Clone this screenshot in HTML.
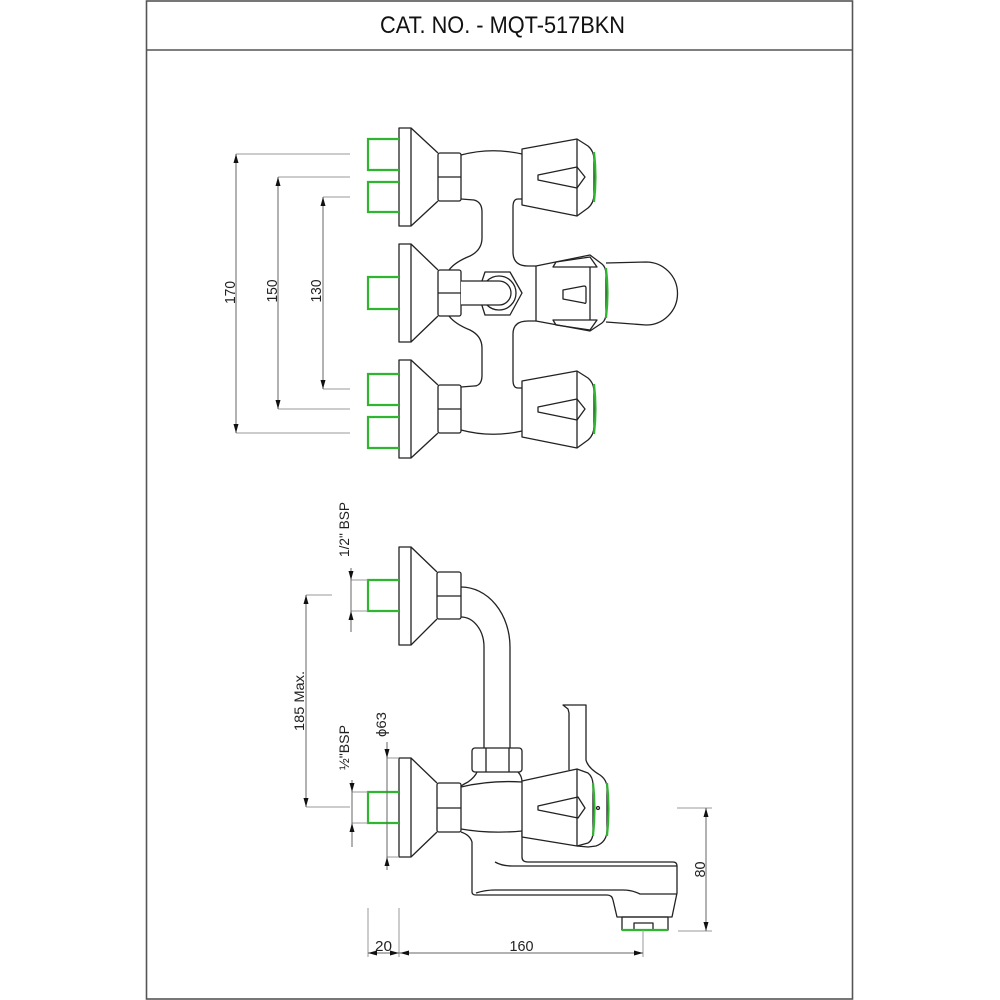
<!DOCTYPE html>
<html><head><meta charset="utf-8"><style>html,body{margin:0;padding:0;background:#fff}svg{display:block}</style></head>
<body>
<svg width="1000" height="1000" viewBox="0 0 1000 1000" xmlns="http://www.w3.org/2000/svg">
<rect width="1000" height="1000" fill="#fff"/>
<!-- frame -->
<g fill="none" stroke="#555" stroke-width="1.6">
<rect x="146.5" y="1" width="706" height="998"/>
<line x1="146.5" y1="50" x2="852.5" y2="50"/>
</g>
<text x="380" y="33" font-family="Liberation Sans, sans-serif" font-size="24" textLength="245" lengthAdjust="spacingAndGlyphs" fill="#111">CAT. NO. - MQT-517BKN</text>

<!-- ===== TOP VIEW ===== -->
<g fill="none" stroke="#222" stroke-width="1.3" stroke-linejoin="round">
<!-- valve 1 -->
<rect x="399" y="128" width="12" height="98"/>
<path d="M411,128 L438,153 M411,226 L438,201"/>
<rect x="438" y="153" width="23" height="48" rx="2"/>
<line x1="438" y1="177" x2="461" y2="177"/>
<!-- valve 2 -->
<rect x="399" y="244" width="12" height="98"/>
<path d="M411,244 L438,270 M411,342 L438,316"/>
<rect x="438" y="270" width="23" height="46" rx="2"/>
<line x1="438" y1="293" x2="461" y2="293"/>
<!-- valve 3 -->
<rect x="399" y="360" width="12" height="98"/>
<path d="M411,360 L438,385 M411,458 L438,433"/>
<rect x="438" y="385" width="23" height="48" rx="2"/>
<line x1="438" y1="409" x2="461" y2="409"/>

<!-- body outline -->
<path d="M461,155 Q491,147 522,154"/>
<path d="M461,430 Q491,438 522,431"/>
<path d="M461,199 L474,200 Q482,202 482,212 L482,238 Q482,250 470,256 Q455,262 449,270"/>
<path d="M449,316 Q455,324 470,330 Q482,336 482,348 L482,375 Q482,386 474,386 L461,387"/>
<path d="M522,199 L518,199 Q513,199 513,207 L513,252 Q513,266 528,266 L536,266"/>
<path d="M536,321 L528,321 Q513,321 513,334 L513,380 Q513,388 518,388 L522,388"/>

<!-- handle 1 -->
<path d="M522,149 L577,139 L588,146 Q594,151 594,160 L594,194 Q594,203 588,208 L577,216 L522,205 Z" fill="#fff"/>
<line x1="577" y1="139" x2="577" y2="216"/>
<path d="M538,175 L577,167 L585,177 L577,188 L538,180 Z"/>
<!-- handle 3 -->
<path d="M522,381 L577,371 L588,378 Q594,383 594,392 L594,426 Q594,435 588,440 L577,448 L522,437 Z" fill="#fff"/>
<line x1="577" y1="371" x2="577" y2="448"/>
<path d="M538,407 L577,399 L585,409 L577,420 L538,412 Z"/>

<!-- middle handle -->
<path d="M606,263 L646,262 A31.5,31.5 0 0 1 646,325 L606,322"/>
<path d="M536,266 L590,255 L602,264 Q606,267 606,275 L606,313 Q606,320 602,323 L590,331 L536,321 Z" fill="#fff"/>
<line x1="590" y1="267" x2="590" y2="320"/>
<path d="M553,267 L556,262 L590,257 L597,267 Z"/>
<path d="M553,320 L556,325 L590,330 L597,320 Z"/>
<path d="M563,290 L584,286 Q586,286 586,288 L586,302 Q586,304 584,303 L563,299 Z"/>

<!-- elbow -->
<polygon points="485,272 510,272 522,293 510,315 485,315 478,293" fill="#fff"/>
<circle cx="499" cy="293" r="17"/>
<path d="M461,281 L499,281 A12,12 0 0 1 499,305 L461,305" fill="#fff"/>
</g>

<!-- green parts top view -->
<g fill="none" stroke="#2fb52f" stroke-width="2.2">
<path d="M399,139 H368 V170 H399 M399,182 H368 V212 H399"/>
<path d="M399,277 H368 V309 H399"/>
<path d="M399,374 H368 V405 H399 M399,417 H368 V448 H399"/>
<path d="M594,152 Q597,177 594,202"/>
<path d="M594,384 Q597,409 594,434"/>
<path d="M606,268 Q609,293 606,318"/>
</g>

<!-- ===== SIDE VIEW ===== -->
<g fill="none" stroke="#222" stroke-width="1.3" stroke-linejoin="round">
<!-- upper valve -->
<rect x="399" y="547" width="12" height="98"/>
<path d="M411,547 L437,572 M411,645 L437,619"/>
<rect x="437" y="572" width="24" height="47" rx="2"/>
<line x1="437" y1="596" x2="461" y2="596"/>
<!-- pipe -->
<path d="M461,587 A49,60 0 0 1 510,647 L510,748"/>
<path d="M461,617 A23,30 0 0 1 484,647 L484,748"/>
<!-- upper nut on pipe -->
<rect x="472" y="748" width="50" height="24" rx="3"/>
<path d="M486,748 V772 M509,748 V772"/>
<!-- lower valve -->
<rect x="399" y="758" width="12" height="99"/>
<path d="M411,758 L437,783 M411,857 L437,832"/>
<rect x="437" y="783" width="24" height="49" rx="2"/>
<line x1="437" y1="808" x2="461" y2="808"/>
<!-- body -->
<path d="M477,772 Q475,777 468,782 Q464,784 461,786"/>
<path d="M518,772 Q522,776 522,782"/>
<path d="M461,787 Q490,780 522,782"/>
<path d="M461,829 Q490,834 522,831"/>
<path d="M461,832 Q470,835 472,842 L472,892 Q472,895 476,895 L607,895 Q612,895 613,900 L617,917 L672,917 L677,893 L677,866 Q677,862 673,862 L528,862 Q522,862 522,857 L522,831"/>
<path d="M476,893 Q485,890 495,890 L623,890 Q632,890 640,894 L677,894"/>
<path d="M495,862 Q502,866 512,866 L677,866"/>
<!-- aerator -->
<rect x="622" y="917" width="46" height="13"/>
<rect x="634" y="923" width="19" height="7"/>
<!-- lever -->
<path d="M569,770 L569,713 L568,709 L563,705 L586,705 L586,760 Q588,768 600,775 Q607,780 607,788 L607,830 Q607,842 596,846 L588,847 L577,846"/>
<!-- handle -->
<path d="M577,769 L588,773 Q593,777 593,785 L593,832 Q593,840 588,843 L577,846" fill="#fff"/>
<path d="M522,781 L577,769 L577,846 L522,837 Z" fill="#fff"/>
<path d="M538,806 L578,797 L585,808 L578,818 L538,810 Z"/>
<circle cx="598" cy="808" r="1.5"/>
</g>

<!-- green side view -->
<g fill="none" stroke="#2fb52f" stroke-width="2.2">
<path d="M399,580 H368 V611 H399"/>
<path d="M399,792 H368 V823 H399"/>
<path d="M593,783 Q596,808 593,836"/>
<path d="M607,783 Q610,808 607,836"/>
<line x1="622" y1="930" x2="668" y2="930"/>
</g>

<!-- ===== DIMENSIONS ===== -->
<g fill="none" stroke="#999" stroke-width="1">
<path d="M236,154 H350 M236,433 H350"/>
<path d="M278,177 H350 M278,409 H350"/>
<path d="M323,197 H350 M323,389 H350"/>
<path d="M351,580 H368 M351,611 H368"/>
<path d="M306,595 H332 M306,807 H350"/>
<path d="M352,792 H368 M352,823 H368"/>
<path d="M387,758 H399 M387,857 H399"/>
<path d="M677,808 H712 M678,931 H712"/>
<path d="M643,930 V957 M368,908 V957 M399,908 V957"/>
</g>
<g fill="none" stroke="#666" stroke-width="1">
<line x1="236" y1="154" x2="236" y2="433"/>
<line x1="278" y1="177" x2="278" y2="409"/>
<line x1="323" y1="197" x2="323" y2="389"/>
<line x1="351" y1="568" x2="351" y2="632"/>
<line x1="306" y1="595" x2="306" y2="807"/>
<line x1="352" y1="780" x2="352" y2="847"/>
<line x1="387" y1="742" x2="387" y2="870"/>
<line x1="706" y1="808" x2="706" y2="931"/>
<line x1="368" y1="953" x2="643" y2="953"/>
</g>
<g fill="#111" stroke="none">
<polygon points="236,154 233.5,163 238.5,163"/>
<polygon points="236,433 233.5,424 238.5,424"/>
<polygon points="278,177 275.5,186 280.5,186"/>
<polygon points="278,409 275.5,400 280.5,400"/>
<polygon points="323,197 320.5,206 325.5,206"/>
<polygon points="323,389 320.5,380 325.5,380"/>
<polygon points="351,580 348.5,571 353.5,571"/>
<polygon points="351,611 348.5,620 353.5,620"/>
<polygon points="306,595 303.5,604 308.5,604"/>
<polygon points="306,807 303.5,798 308.5,798"/>
<polygon points="352,792 349.5,783 354.5,783"/>
<polygon points="352,823 349.5,832 354.5,832"/>
<polygon points="387,758 384.5,749 389.5,749"/>
<polygon points="387,857 384.5,866 389.5,866"/>
<polygon points="706,808 703.5,817 708.5,817"/>
<polygon points="706,931 703.5,922 708.5,922"/>
<polygon points="368,953 377,950.5 377,955.5"/>
<polygon points="399,953 390,950.5 390,955.5"/>
<polygon points="400,953 409,950.5 409,955.5"/>
<polygon points="643,953 634,950.5 634,955.5"/>
</g>

<g font-family="Liberation Sans, sans-serif" font-size="15" fill="#222" text-anchor="middle">
<text transform="translate(235,292.5) rotate(-90)" textLength="23" lengthAdjust="spacingAndGlyphs">170</text>
<text transform="translate(277,291) rotate(-90)" textLength="23" lengthAdjust="spacingAndGlyphs">150</text>
<text transform="translate(321,291) rotate(-90)" textLength="23" lengthAdjust="spacingAndGlyphs">130</text>
<text transform="translate(349,529.5) rotate(-90)" font-size="14" textLength="55" lengthAdjust="spacingAndGlyphs">1/2" BSP</text>
<text transform="translate(304,701) rotate(-90)" font-size="14" textLength="60" lengthAdjust="spacingAndGlyphs">185 Max.</text>
<text transform="translate(349,747.5) rotate(-90)" font-size="14" textLength="45" lengthAdjust="spacingAndGlyphs">½"BSP</text>
<text transform="translate(386,724.5) rotate(-90)" font-size="14" textLength="25" lengthAdjust="spacingAndGlyphs">ϕ63</text>
<text transform="translate(705,869.5) rotate(-90)" textLength="16" lengthAdjust="spacingAndGlyphs">80</text>
<text x="383.5" y="951" textLength="17" lengthAdjust="spacingAndGlyphs">20</text>
<text x="521.5" y="951" textLength="24" lengthAdjust="spacingAndGlyphs">160</text>
</g>
</svg>
</body></html>
